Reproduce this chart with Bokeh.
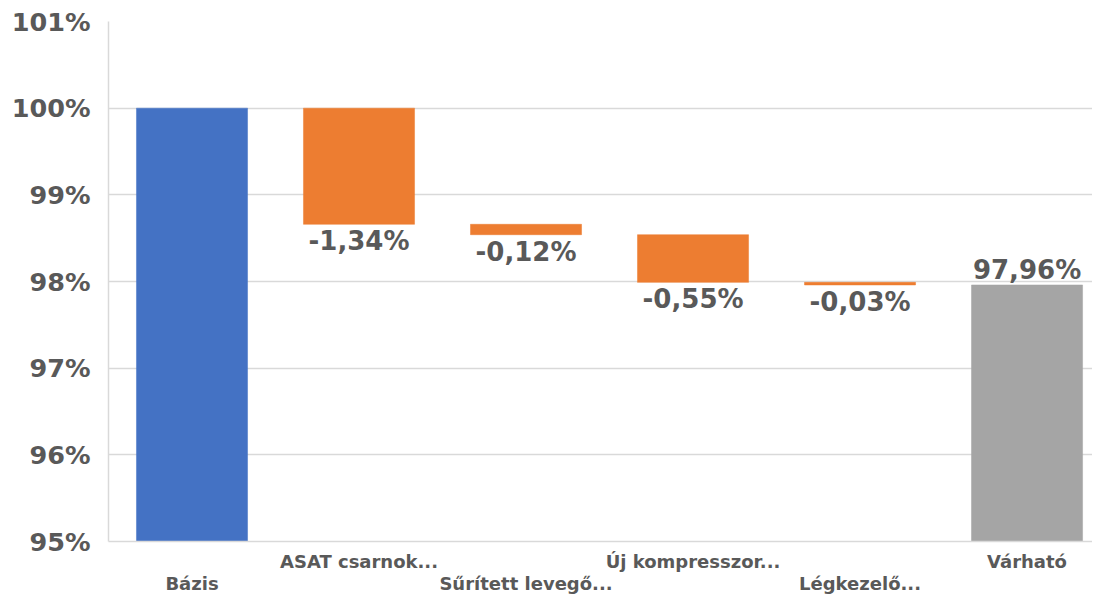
from bokeh.plotting import figure
from bokeh.models import Range1d, FixedTicker, ColumnDataSource, LinearAxis
from bokeh.core.properties import value
from bokeh.embed import file_html
from bokeh.resources import INLINE

categories = ["Bázis", "ASAT csarnok...", "Sűrített levegő...", "Új kompresszor...", "Légkezelő...", "Várható"]
base_value = 100.0
deltas = [-1.34, -0.12, -0.55, -0.03]
final_value = 97.96
y_ticks = [95, 96, 97, 98, 99, 100, 101]

FONT = "DejaVu Sans"
TXT = "#595959"
GRID = "#D9D9D9"

axis_min = 95.0

# waterfall geometry from the data
xs = list(range(len(categories)))
tops, bottoms, colors = [], [], []
tops.append(base_value); bottoms.append(axis_min); colors.append("#4472C4")
run = base_value
for d in deltas:
    tops.append(run); bottoms.append(run + d); colors.append("#ED7D31")
    run += d
tops.append(final_value); bottoms.append(axis_min); colors.append("#A5A5A5")

src = ColumnDataSource(dict(x=xs, top=tops, bottom=bottoms, color=colors))

p = figure(width=1092, height=596, output_backend="svg", toolbar_location=None,
           x_range=Range1d(-0.5, 5.392), y_range=Range1d(95, 101),
           x_axis_location=None,
           min_border_left=108, min_border_right=0, min_border_top=21, min_border_bottom=0)
p.outline_line_color = None
p.background_fill_color = "white"
p.border_fill_color = "white"

p.vbar(x="x", top="top", bottom="bottom", width=0.665, fill_color="color",
       line_color="color", line_width=0.5, source=src)

def fmt(v):
    return f"{v:.2f}".replace(".", ",") + "%"

# negative change labels below bars
neg_src = ColumnDataSource(dict(
    x=xs[1:5],
    y=[bottoms[i] for i in range(1, 5)],
    t=[fmt(d) for d in deltas],
))
p.text(x="x", y="y", text="t", source=neg_src, text_align="center", text_baseline="top",
       y_offset=2, text_font=value(FONT), text_font_style="bold", text_font_size="26px",
       text_color=TXT)

fin_src = ColumnDataSource(dict(x=[xs[-1]], y=[final_value], t=[fmt(final_value)]))
p.text(x="x", y="y", text="t", source=fin_src, text_align="center", text_baseline="bottom",
       y_offset=0, text_font=value(FONT), text_font_style="bold", text_font_size="26px",
       text_color=TXT)

# y axis
p.yaxis.ticker = FixedTicker(ticks=y_ticks)
p.yaxis.major_label_overrides = {t: f"{t}%" for t in y_ticks}
p.yaxis.major_label_text_font = FONT
p.yaxis.major_label_text_font_style = "bold"
p.yaxis.major_label_text_font_size = "25.5px"
p.yaxis.major_label_text_color = TXT
p.yaxis.axis_line_color = GRID
p.yaxis.axis_line_width = 1.5
p.yaxis.major_tick_line_color = None
p.yaxis.minor_tick_line_color = None
p.yaxis.major_label_standoff = 12

# two stacked x axes give the staggered category labels
odd_ticks = [i for i in xs if i % 2 == 1]
even_ticks = [i for i in xs if i % 2 == 0]

ax1 = LinearAxis(ticker=FixedTicker(ticks=odd_ticks),
                 major_label_overrides={i: categories[i] for i in odd_ticks})
ax2 = LinearAxis(ticker=FixedTicker(ticks=even_ticks),
                 major_label_overrides={i: categories[i] for i in even_ticks})
for ax in (ax1, ax2):
    ax.major_label_text_font = FONT
    ax.major_label_text_font_style = "bold"
    ax.major_label_text_font_size = "18px"
    ax.major_label_text_color = TXT
    ax.major_tick_line_color = None
    ax.minor_tick_line_color = None
    ax.major_tick_out = 0
    ax.major_tick_in = 0
ax1.axis_line_color = GRID
ax1.axis_line_width = 1.5
ax1.major_label_standoff = 9
ax2.axis_line_color = None
ax2.major_label_standoff = -2
p.add_layout(ax1, "below")
p.add_layout(ax2, "below")

p.xgrid.grid_line_color = None
p.ygrid.grid_line_color = GRID
p.ygrid.grid_line_width = 1.5

open("out.html", "w").write(file_html(p, INLINE))
